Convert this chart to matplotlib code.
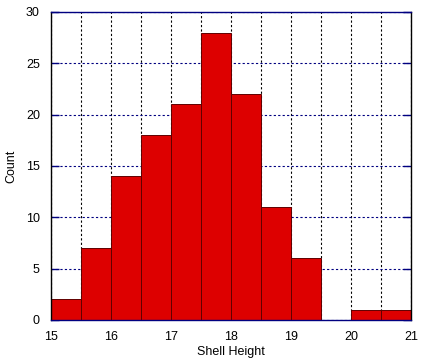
import matplotlib
matplotlib.use("Agg")
import matplotlib.pyplot as plt
import numpy as np

bin_edges = [15, 15.5, 16, 16.5, 17, 17.5, 18, 18.5, 19, 19.5, 20, 20.5, 21]
counts = [2, 7, 14, 18, 21, 28, 22, 11, 6, 0, 1, 1]
xticks = [15, 16, 17, 18, 19, 20, 21]
yticks = [0, 5, 10, 15, 20, 25, 30]

plt.rcParams['font.family'] = ['Liberation Sans', 'DejaVu Sans']
fig = plt.figure(figsize=(4.23, 3.63), dpi=100)
ax = fig.add_axes([51/423, 43/363, 360/423, 308/363])

widths = np.diff(bin_edges)
ax.bar(bin_edges[:-1], counts, width=widths, align='edge', color='#dd0000',
       edgecolor='#600000', linewidth=0.7, zorder=2)

ax.set_xlim(15, 21)
ax.set_ylim(0, 30)
ax.set_xticks(xticks)
ax.set_xticks(bin_edges, minor=True)
ax.set_yticks(yticks)
ax.tick_params(axis='x', which='both', length=0, labelsize=9, pad=8)
ax.tick_params(axis='y', which='major', direction='in', length=6, width=1,
               color='#000080', left=True, right=True, labelsize=9, pad=8)
ax.grid(axis='x', which='both', color='black', linestyle=(0, (2, 2)), linewidth=0.8, zorder=1)
ax.grid(axis='y', which='major', color='#000080', linestyle=(0, (2, 2)), linewidth=0.8, zorder=1)
ax.spines['top'].set_color('#000080')
ax.spines['bottom'].set_color('#000080')
ax.spines['left'].set_color('black')
ax.spines['right'].set_color('black')
for s in ax.spines.values():
    s.set_linewidth(1.0)
ax.set_axisbelow(True)
ax.set_xlabel('Shell Height', fontsize=9, labelpad=2)
ax.set_ylabel('Count', fontsize=9, labelpad=6)

fig.savefig('out.png', dpi=100)
